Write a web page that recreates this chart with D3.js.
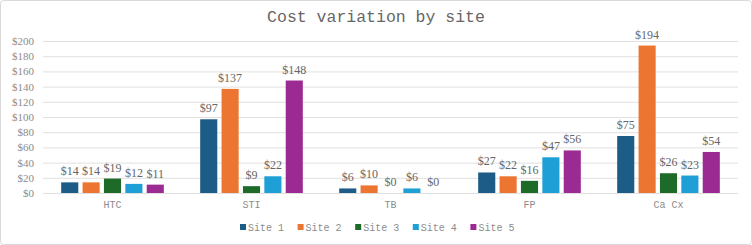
<!DOCTYPE html>
<html><head><meta charset="utf-8">
<script src="https://cdn.jsdelivr.net/npm/d3@7"></script>
<style>html,body{margin:0;padding:0;background:#fff;}</style>
</head><body>
<svg id="c" width="752" height="245"></svg>
<script>
const categories = ["HTC", "STI", "TB", "FP", "Ca Cx"];
const sites = ["Site 1", "Site 2", "Site 3", "Site 4", "Site 5"];
const site1 = [14, 97, 6, 27, 75];
const site2 = [14, 137, 10, 22, 194];
const site3 = [19, 9, 0, 16, 26];
const site4 = [12, 22, 6, 47, 23];
const site5 = [11, 148, 0, 56, 54];
const yTicks = [0, 20, 40, 60, 80, 100, 120, 140, 160, 180, 200];
const colors = ["#1d5c86", "#ec7532", "#1e6b29", "#1ea0d6", "#9b2b93"];
const seriesVals = [site1, site2, site3, site4, site5];

(function () {
const svg = d3.select("#c");
svg.append("rect").attr("x", 0.5).attr("y", 0.5).attr("width", 751).attr("height", 244)
  .attr("rx", 3).attr("fill", "#fff").attr("stroke", "#d9d9d9");

const pLeft = 43, pRight = 738, pTop = 41, pBottom = 193;
const x0 = d3.scaleBand().domain(categories).range([pLeft, pRight]);
const x1 = d3.scaleBand().domain(sites).range([0, x0.bandwidth()]).paddingInner(0.2).paddingOuter(0.85);
const y = d3.scaleLinear().domain([0, 200]).range([pBottom, pTop]);

svg.append("text").attr("x", 376).attr("y", 22).attr("text-anchor", "middle")
  .attr("font-family", "Liberation Mono, monospace").attr("font-size", 16.5)
  .attr("fill", "#666666").text("Cost variation by site");

const yAxis = svg.append("g").attr("transform", `translate(${pLeft},0)`)
  .call(d3.axisLeft(y).tickValues(yTicks).tickSize(-(pRight - pLeft)).tickFormat(d => "$" + d));
yAxis.select(".domain").remove();
yAxis.selectAll(".tick line").attr("stroke", "#e0e0e0");
yAxis.selectAll(".tick text").attr("x", -9).attr("font-family", "Liberation Serif, serif")
  .attr("font-size", 11).attr("fill", "#8c8c8c");

const xAxis = svg.append("g").attr("transform", `translate(0,${pBottom})`)
  .call(d3.axisBottom(x0).tickSize(0));
xAxis.select(".domain").remove();
xAxis.selectAll(".tick text").attr("dy", 0).attr("y", 15).attr("font-family", "Liberation Mono, monospace")
  .attr("font-size", 10).attr("fill", "#8c8c8c");

const g = svg.append("g");
categories.forEach((c, ci) => {
  sites.forEach((s, si) => {
    const v = seriesVals[si][ci];
    const bx = x0(c) + x1(s);
    g.append("rect").attr("x", bx).attr("y", y(v)).attr("width", x1.bandwidth())
      .attr("height", y(0) - y(v)).attr("fill", colors[si]);
    g.append("text").attr("x", bx + x1.bandwidth() / 2).attr("y", y(v) - 7)
      .attr("text-anchor", "middle").attr("font-family", "Liberation Serif, serif")
      .attr("font-size", 12).attr("fill", "#666666").text("$" + v);
  });
});

const legX = d3.scaleBand().domain(sites).range([240, 528]);
const leg = svg.append("g");
sites.forEach((s, si) => {
  leg.append("rect").attr("x", legX(s)).attr("y", 224).attr("width", 6).attr("height", 6).attr("fill", colors[si]);
  leg.append("text").attr("x", legX(s) + 8).attr("y", 230.5).attr("font-family", "Liberation Mono, monospace")
    .attr("font-size", 10).attr("fill", "#8c8c8c").text(s);
});
})();
</script>
</body></html>
